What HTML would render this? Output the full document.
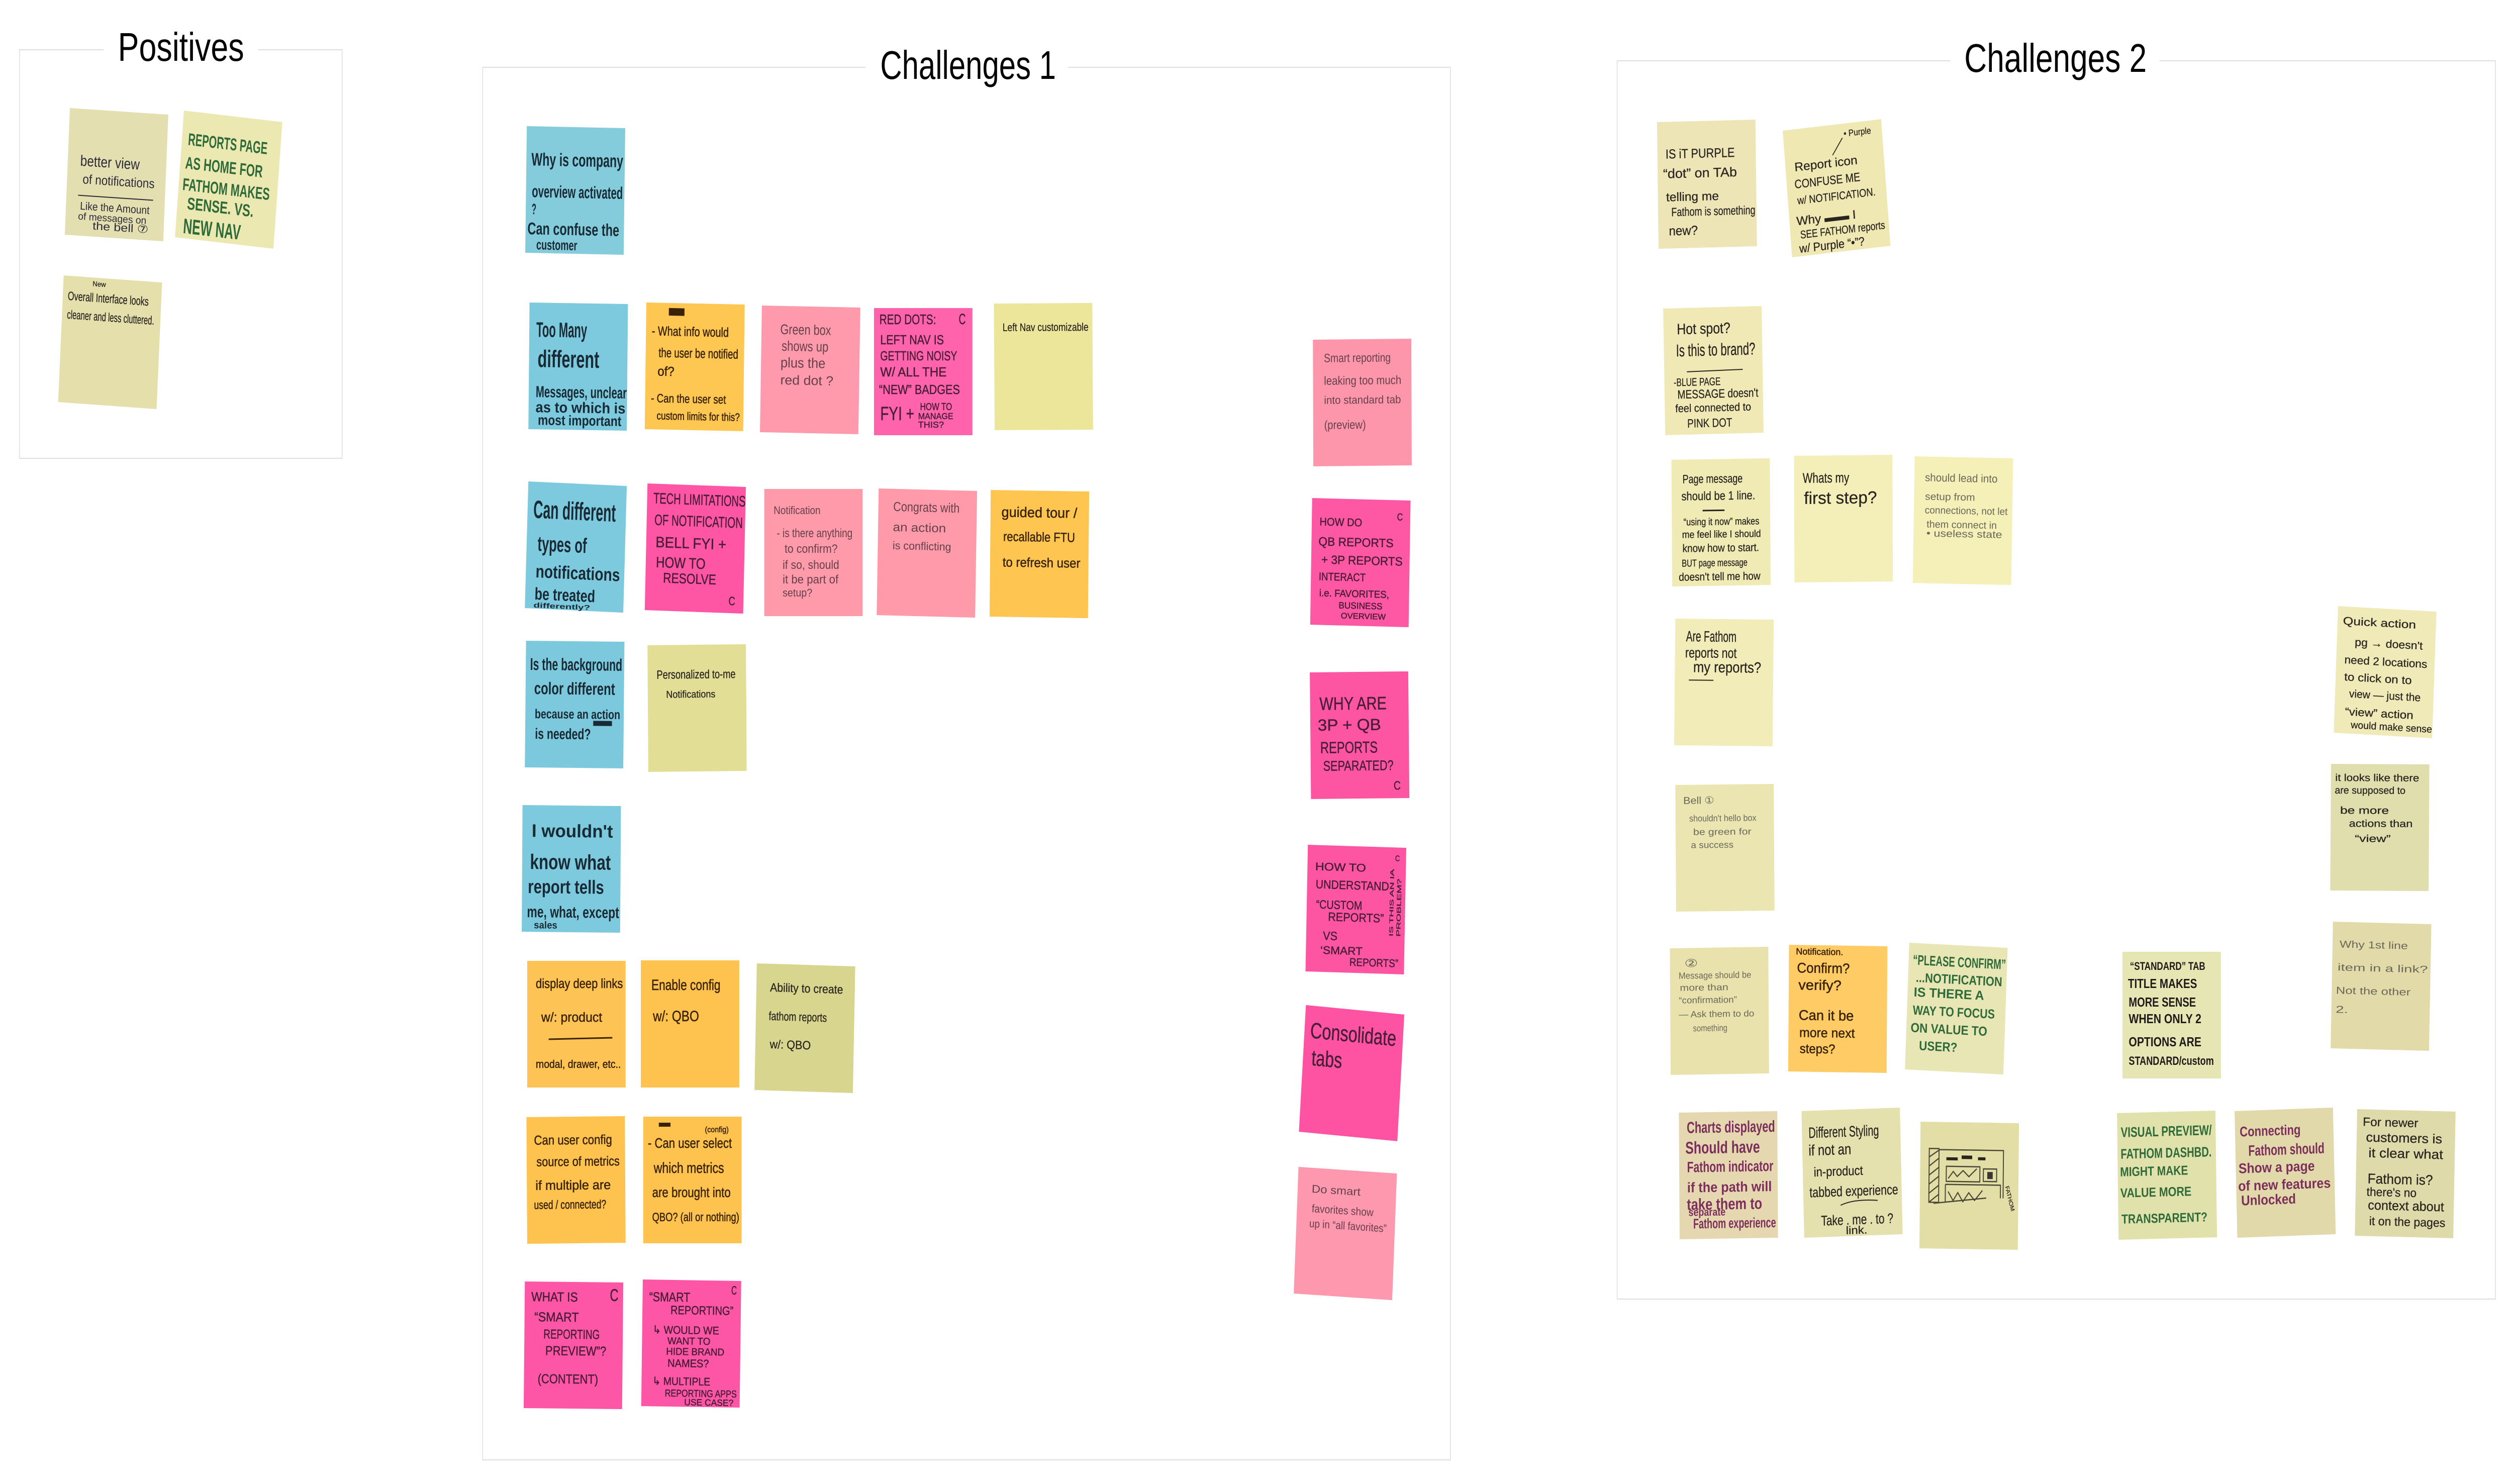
<!DOCTYPE html>
<html lang="en">
<head>
<meta charset="utf-8">
<title>Positives and Challenges</title>
<style>
html,body{margin:0;padding:0;background:#fff;width:100%;height:100%;overflow:hidden}
svg{display:block;position:fixed;left:0;top:0;width:100vw;height:100vh}
text{font-family:"Liberation Sans",sans-serif}
.k text{fill:#2a2420;stroke:#2a2420;stroke-width:.3}
.kb text{fill:#1d1a18;font-weight:700}
.n text{fill:#2b2b3a}
.g text{fill:#2f6b3a;font-weight:700}
.p text{fill:#7d2f5c;font-weight:700}
.m text{fill:#4a1d38;stroke:#4a1d38;stroke-width:.5}
.c text{fill:#182a34;font-weight:700}
.o text{fill:#3a2208;stroke:#3a2208;stroke-width:.5}
.r text{fill:#66404c}
.y text{fill:#6b685a}
.t{fill:#000;font-size:80px}
.f{fill:none;stroke:#dedede;stroke-width:2}
.w{fill:#fff}
</style>
</head>
<body>
<svg xmlns="http://www.w3.org/2000/svg" viewBox="0 0 6435 2953" preserveAspectRatio="none">
<rect width="6435" height="2953" fill="#fff"/>

<!-- frames -->
<rect class="f" x="50" y="99" width="826" height="813"/>
<rect class="w" x="265" y="90" width="396" height="20"/>
<text class="t" x="302" y="121" textLength="323" lengthAdjust="spacingAndGlyphs">Positives</text>

<rect class="f" x="1236" y="134" width="2478" height="2771"/>
<rect class="w" x="2216" y="125" width="519" height="20"/>
<text class="t" x="2254" y="157" textLength="450" lengthAdjust="spacingAndGlyphs">Challenges 1</text>

<rect class="f" x="4141" y="121" width="2249" height="2464"/>
<rect class="w" x="4994" y="112" width="536" height="20"/>
<text class="t" x="5030" y="143" textLength="467" lengthAdjust="spacingAndGlyphs">Challenges 2</text>

<!-- Positives -->
<g class="n" transform="matrix(1 .052 -.052 1 179 215)"><rect width="252" height="252" fill="#e4dfb0"/>
<text x="32" y="113" font-size="30" textLength="152" lengthAdjust="spacingAndGlyphs">better view</text>
<text x="40" y="148" font-size="26" textLength="184" lengthAdjust="spacingAndGlyphs">of notifications</text>
<path d="M30 172L222 172" stroke="#2b2b3a" stroke-width="2"/>
<text x="36" y="200" font-size="22" textLength="178" lengthAdjust="spacingAndGlyphs">Like the Amount</text>
<text x="32" y="220" font-size="20" textLength="175" lengthAdjust="spacingAndGlyphs">of messages on</text>
<text x="70" y="238" font-size="22" textLength="143" lengthAdjust="spacingAndGlyphs">the bell ⑦</text></g>

<g class="g" transform="matrix(1 .091 -.091 1 471 220)"><rect width="252" height="252" fill="#ece8b2"/>
<text x="16" y="67" font-size="34" textLength="203" lengthAdjust="spacingAndGlyphs">REPORTS PAGE</text>
<text x="13" y="114" font-size="34" textLength="198" lengthAdjust="spacingAndGlyphs">AS HOME FOR</text>
<text x="10" y="157" font-size="34" textLength="223" lengthAdjust="spacingAndGlyphs">FATHOM MAKES</text>
<text x="25" y="194" font-size="34" textLength="170" lengthAdjust="spacingAndGlyphs">SENSE. VS.</text>
<text x="19" y="242" font-size="42" textLength="147" lengthAdjust="spacingAndGlyphs">NEW NAV</text></g>

<g class="k" transform="matrix(1 .056 -.056 1 163 548)"><rect width="252" height="252" fill="#e5e0ab"/>
<text x="75" y="17" font-size="14" textLength="34" lengthAdjust="spacingAndGlyphs">New</text>
<text x="13" y="48" font-size="24" textLength="207" lengthAdjust="spacingAndGlyphs">Overall Interface looks</text>
<text x="13" y="85" font-size="24" textLength="223" lengthAdjust="spacingAndGlyphs">cleaner and less cluttered.</text></g>

<!-- Challenges 1 -->
<g class="c" transform="matrix(1 .016 -.016 1 1349 251)"><rect width="252" height="252" fill="#84cbdc"/>
<text x="13" y="78" font-size="36" textLength="235" lengthAdjust="spacingAndGlyphs">Why is company</text>
<text x="15" y="141" font-size="34" textLength="233" lengthAdjust="spacingAndGlyphs">overview activated</text>
<text x="15" y="175" font-size="30" textLength="12" lengthAdjust="spacingAndGlyphs">?</text>
<text x="5" y="215" font-size="34" textLength="235" lengthAdjust="spacingAndGlyphs">Can confuse the</text>
<text x="28" y="245" font-size="28" textLength="105" lengthAdjust="spacingAndGlyphs">customer</text></g>

<g class="c" transform="matrix(1 .012 -.012 1 1356 602)"><rect width="252" height="252" fill="#7dc9dd"/>
<text x="18" y="68" font-size="42" textLength="130" lengthAdjust="spacingAndGlyphs">Too Many</text>
<text x="22" y="128" font-size="48" textLength="158" lengthAdjust="spacingAndGlyphs">different</text>
<text x="18" y="188" font-size="32" textLength="233" lengthAdjust="spacingAndGlyphs">Messages, unclear</text>
<text x="18" y="218" font-size="30" textLength="230" lengthAdjust="spacingAndGlyphs">as to which is</text>
<text x="24" y="243" font-size="28" textLength="214" lengthAdjust="spacingAndGlyphs">most important</text></g>

<g class="o" transform="matrix(1 .016 -.016 1 1655 602)"><rect width="252" height="252" fill="#fec752"/>
<rect x="58" y="10" width="40" height="15" fill="#3a2208"/>
<text x="15" y="65" font-size="26" textLength="197" lengthAdjust="spacingAndGlyphs">- What info would</text>
<text x="33" y="108" font-size="26" textLength="204" lengthAdjust="spacingAndGlyphs">the user be notified</text>
<text x="31" y="145" font-size="26" textLength="43" lengthAdjust="spacingAndGlyphs">of?</text>
<text x="15" y="198" font-size="24" textLength="192" lengthAdjust="spacingAndGlyphs">- Can the user set</text>
<text x="30" y="232" font-size="22" textLength="213" lengthAdjust="spacingAndGlyphs">custom limits for this?</text></g>

<g class="r" transform="matrix(1 .016 -.02 1 1951 608)"><rect width="252" height="252" fill="#fe9aab"/>
<text x="48" y="56" font-size="28" textLength="130" lengthAdjust="spacingAndGlyphs">Green box</text>
<text x="52" y="89" font-size="28" textLength="120" lengthAdjust="spacingAndGlyphs">shows up</text>
<text x="50" y="122" font-size="28" textLength="115" lengthAdjust="spacingAndGlyphs">plus the</text>
<text x="50" y="156" font-size="26" textLength="136" lengthAdjust="spacingAndGlyphs">red dot ?</text></g>

<g class="m" transform="matrix(1 0 0 1 2238 613)"><rect width="252" height="253" fill="#fe63ab"/>
<text x="14" y="32" font-size="28" textLength="145" lengthAdjust="spacingAndGlyphs">RED DOTS:</text>
<text x="217" y="32" font-size="30" textLength="18" lengthAdjust="spacingAndGlyphs">C</text>
<text x="16" y="72" font-size="26" textLength="163" lengthAdjust="spacingAndGlyphs">LEFT NAV IS</text>
<text x="16" y="104" font-size="26" textLength="197" lengthAdjust="spacingAndGlyphs">GETTING NOISY</text>
<text x="16" y="136" font-size="26" textLength="170" lengthAdjust="spacingAndGlyphs">W/ ALL THE</text>
<text x="13" y="171" font-size="26" textLength="207" lengthAdjust="spacingAndGlyphs">“NEW” BADGES</text>
<text x="16" y="223" font-size="38" textLength="87" lengthAdjust="spacingAndGlyphs">FYI +</text>
<text x="118" y="203" font-size="20" textLength="82" lengthAdjust="spacingAndGlyphs">HOW TO</text>
<text x="113" y="221" font-size="18" textLength="90" lengthAdjust="spacingAndGlyphs">MANAGE</text>
<text x="113" y="238" font-size="18" textLength="66" lengthAdjust="spacingAndGlyphs">THIS?</text></g>

<g class="k" transform="matrix(1 -.004 .008 1 2545 604)"><rect width="252" height="252" fill="#ebe69a"/>
<text x="22" y="55" font-size="22" textLength="220" lengthAdjust="spacingAndGlyphs">Left Nav customizable</text></g>

<g class="c" transform="matrix(1 .036 -.036 1 1353 958)"><rect width="252" height="252" fill="#7dc9de"/>
<text x="15" y="72" font-size="50" textLength="211" lengthAdjust="spacingAndGlyphs">Can different</text>
<text x="28" y="137" font-size="42" textLength="126" lengthAdjust="spacingAndGlyphs">types of</text>
<text x="25" y="190" font-size="36" textLength="216" lengthAdjust="spacingAndGlyphs">notifications</text>
<text x="24" y="234" font-size="34" textLength="155" lengthAdjust="spacingAndGlyphs">be treated</text>
<text x="22" y="250" font-size="14" textLength="145" lengthAdjust="spacingAndGlyphs">differently?</text></g>

<g class="m" transform="matrix(1 .028 -.028 1 1658 962)"><rect width="252" height="252" fill="#fe56a4"/>
<text x="16" y="39" font-size="30" textLength="236" lengthAdjust="spacingAndGlyphs">TECH LIMITATIONS</text>
<text x="20" y="82" font-size="30" textLength="226" lengthAdjust="spacingAndGlyphs">OF NOTIFICATION</text>
<text x="24" y="126" font-size="30" textLength="181" lengthAdjust="spacingAndGlyphs">BELL FYI +</text>
<text x="26" y="166" font-size="30" textLength="127" lengthAdjust="spacingAndGlyphs">HOW TO</text>
<text x="45" y="196" font-size="28" textLength="136" lengthAdjust="spacingAndGlyphs">RESOLVE</text>
<text x="214" y="236" font-size="24" textLength="17" lengthAdjust="spacingAndGlyphs">C</text></g>

<g class="r" transform="matrix(1 0 0 1 1957 973)"><rect width="252" height="253" fill="#fe9aa9"/>
<text x="24" y="50" font-size="22" textLength="120" lengthAdjust="spacingAndGlyphs">Notification</text>
<text x="32" y="96" font-size="24" textLength="194" lengthAdjust="spacingAndGlyphs">- is there anything</text>
<text x="52" y="127" font-size="24" textLength="136" lengthAdjust="spacingAndGlyphs">to confirm?</text>
<text x="47" y="159" font-size="24" textLength="145" lengthAdjust="spacingAndGlyphs">if so, should</text>
<text x="47" y="188" font-size="24" textLength="143" lengthAdjust="spacingAndGlyphs">it be part of</text>
<text x="47" y="214" font-size="22" textLength="76" lengthAdjust="spacingAndGlyphs">setup?</text></g>

<g class="r" transform="matrix(1 .02 -.02 1 2250 972)"><rect width="252" height="252" fill="#fe9aa9"/>
<text x="38" y="44" font-size="26" textLength="170" lengthAdjust="spacingAndGlyphs">Congrats with</text>
<text x="38" y="84" font-size="24" textLength="136" lengthAdjust="spacingAndGlyphs">an action</text>
<text x="38" y="120" font-size="22" textLength="150" lengthAdjust="spacingAndGlyphs">is conflicting</text></g>

<g class="o" transform="matrix(1 .012 -.012 1 2537 975)"><rect width="252" height="252" fill="#fec651"/>
<text x="28" y="53" font-size="28" textLength="194" lengthAdjust="spacingAndGlyphs">guided tour /</text>
<text x="33" y="101" font-size="26" textLength="184" lengthAdjust="spacingAndGlyphs">recallable FTU</text>
<text x="32" y="152" font-size="26" textLength="199" lengthAdjust="spacingAndGlyphs">to refresh user</text></g>

<g class="c" transform="matrix(1 .008 -.012 1 1347 1275)"><rect width="252" height="252" fill="#7cc9de"/>
<rect x="174" y="158" width="48" height="10" fill="#182a34"/>
<text x="11" y="58" font-size="34" textLength="236" lengthAdjust="spacingAndGlyphs">Is the background</text>
<text x="22" y="106" font-size="34" textLength="207" lengthAdjust="spacingAndGlyphs">color different</text>
<text x="24" y="154" font-size="26" textLength="219" lengthAdjust="spacingAndGlyphs">because an action</text>
<text x="25" y="195" font-size="30" textLength="143" lengthAdjust="spacingAndGlyphs">is needed?</text></g>

<g class="k" transform="matrix(1 -.008 .008 1 1658 1284)"><rect width="252" height="252" fill="#e2de95"/>
<text x="23" y="67" font-size="24" textLength="202" lengthAdjust="spacingAndGlyphs">Personalized to-me</text>
<text x="47" y="105" font-size="20" textLength="126" lengthAdjust="spacingAndGlyphs">Notifications</text></g>

<g class="c" transform="matrix(1 .008 -.008 1 1338 1602)"><rect width="252" height="252" fill="#7dc9dd"/>
<text x="24" y="63" font-size="36" textLength="208" lengthAdjust="spacingAndGlyphs">I wouldn't</text>
<text x="20" y="127" font-size="42" textLength="207" lengthAdjust="spacingAndGlyphs">know what</text>
<text x="15" y="175" font-size="38" textLength="195" lengthAdjust="spacingAndGlyphs">report tells</text>
<text x="13" y="223" font-size="32" textLength="236" lengthAdjust="spacingAndGlyphs">me, what, except</text>
<text x="31" y="245" font-size="20" textLength="60" lengthAdjust="spacingAndGlyphs">sales</text></g>

<g class="o" transform="matrix(1 0 0 1 1350 1912)"><rect width="252" height="252" fill="#fec355"/>
<text x="22" y="54" font-size="26" textLength="223" lengthAdjust="spacingAndGlyphs">display deep links</text>
<text x="36" y="121" font-size="26" textLength="156" lengthAdjust="spacingAndGlyphs">w/: product</text>
<path d="M55 156L218 153" stroke="#3a2208" stroke-width="3"/>
<text x="22" y="213" font-size="22" textLength="218" lengthAdjust="spacingAndGlyphs">modal, drawer, etc..</text></g>

<g class="o" transform="matrix(1 0 0 1 1641 1911)"><rect width="252" height="253" fill="#fec24f"/>
<text x="27" y="59" font-size="30" textLength="177" lengthAdjust="spacingAndGlyphs">Enable config</text>
<text x="31" y="121" font-size="30" textLength="118" lengthAdjust="spacingAndGlyphs">w/: QBO</text></g>

<g class="k" transform="matrix(1 .024 -.024 1 1938 1917)"><rect width="252" height="252" fill="#d8d58e"/>
<text x="35" y="55" font-size="24" textLength="187" lengthAdjust="spacingAndGlyphs">Ability to create</text>
<text x="33" y="112" font-size="24" textLength="149" lengthAdjust="spacingAndGlyphs">fathom reports</text>
<text x="37" y="168" font-size="24" textLength="105" lengthAdjust="spacingAndGlyphs">w/: QBO</text></g>

<g class="o" transform="matrix(1 -.008 .008 1 1348 2223)"><rect width="252" height="252" fill="#fec24f"/>
<text x="19" y="55" font-size="26" textLength="200" lengthAdjust="spacingAndGlyphs">Can user config</text>
<text x="25" y="98" font-size="26" textLength="213" lengthAdjust="spacingAndGlyphs">source of metrics</text>
<text x="22" y="145" font-size="26" textLength="193" lengthAdjust="spacingAndGlyphs">if multiple are</text>
<text x="18" y="183" font-size="24" textLength="185" lengthAdjust="spacingAndGlyphs">used / connected?</text></g>

<g class="o" transform="matrix(1 0 0 1 1647 2222)"><rect width="252" height="252" fill="#fec24f"/>
<rect x="40" y="12" width="30" height="8" fill="#3a2208"/>
<text x="158" y="31" font-size="16" textLength="61" lengthAdjust="spacingAndGlyphs">(config)</text>
<text x="12" y="62" font-size="28" textLength="215" lengthAdjust="spacingAndGlyphs">- Can user select</text>
<text x="27" y="112" font-size="30" textLength="180" lengthAdjust="spacingAndGlyphs">which metrics</text>
<text x="23" y="160" font-size="28" textLength="201" lengthAdjust="spacingAndGlyphs">are brought into</text>
<text x="23" y="208" font-size="24" textLength="223" lengthAdjust="spacingAndGlyphs">QBO? (all or nothing)</text></g>

<g class="m" transform="matrix(1 .008 -.012 1 1344 2550)"><rect width="252" height="252" fill="#fe56a6"/>
<text x="17" y="39" font-size="26" textLength="119" lengthAdjust="spacingAndGlyphs">WHAT IS</text>
<text x="218" y="37" font-size="34" textLength="22" lengthAdjust="spacingAndGlyphs">C</text>
<text x="25" y="79" font-size="26" textLength="114" lengthAdjust="spacingAndGlyphs">“SMART</text>
<text x="49" y="113" font-size="26" textLength="144" lengthAdjust="spacingAndGlyphs">REPORTING</text>
<text x="54" y="146" font-size="26" textLength="156" lengthAdjust="spacingAndGlyphs">PREVIEW”?</text>
<text x="35" y="202" font-size="26" textLength="155" lengthAdjust="spacingAndGlyphs">(CONTENT)</text></g>

<g class="m" transform="matrix(1 .012 -.016 1 1646 2546)"><rect width="252" height="252" fill="#fe56a6"/>
<text x="227" y="27" font-size="24" textLength="14" lengthAdjust="spacingAndGlyphs">C</text>
<text x="17" y="43" font-size="26" textLength="105" lengthAdjust="spacingAndGlyphs">“SMART</text>
<text x="72" y="68" font-size="24" textLength="161" lengthAdjust="spacingAndGlyphs">REPORTING”</text>
<text x="27" y="107" font-size="22" textLength="170" lengthAdjust="spacingAndGlyphs">↳ WOULD WE</text>
<text x="65" y="128" font-size="20" textLength="110" lengthAdjust="spacingAndGlyphs">WANT TO</text>
<text x="62" y="149" font-size="20" textLength="149" lengthAdjust="spacingAndGlyphs">HIDE BRAND</text>
<text x="66" y="173" font-size="22" textLength="106" lengthAdjust="spacingAndGlyphs">NAMES?</text>
<text x="28" y="209" font-size="22" textLength="148" lengthAdjust="spacingAndGlyphs">↳ MULTIPLE</text>
<text x="60" y="232" font-size="20" textLength="184" lengthAdjust="spacingAndGlyphs">REPORTING APPS</text>
<text x="110" y="249" font-size="18" textLength="126" lengthAdjust="spacingAndGlyphs">USE CASE?</text></g>

<g class="r" transform="matrix(1 -.008 .004 1 3362 676)"><rect width="252" height="252" fill="#fe96ab"/>
<text x="28" y="45" font-size="24" textLength="171" lengthAdjust="spacingAndGlyphs">Smart reporting</text>
<text x="28" y="90" font-size="24" textLength="198" lengthAdjust="spacingAndGlyphs">leaking too much</text>
<text x="28" y="128" font-size="22" textLength="197" lengthAdjust="spacingAndGlyphs">into standard tab</text>
<text x="28" y="178" font-size="24" textLength="107" lengthAdjust="spacingAndGlyphs">(preview)</text></g>

<g class="m" transform="matrix(1 .02 -.02 1 3360 991)"><rect width="252" height="252" fill="#fe57a3"/>
<text x="218" y="40" font-size="20" textLength="15" lengthAdjust="spacingAndGlyphs">C</text>
<text x="20" y="54" font-size="22" textLength="109" lengthAdjust="spacingAndGlyphs">HOW DO</text>
<text x="18" y="94" font-size="24" textLength="192" lengthAdjust="spacingAndGlyphs">QB REPORTS</text>
<text x="26" y="130" font-size="24" textLength="208" lengthAdjust="spacingAndGlyphs">+ 3P REPORTS</text>
<text x="20" y="163" font-size="22" textLength="120" lengthAdjust="spacingAndGlyphs">INTERACT</text>
<text x="22" y="195" font-size="20" textLength="179" lengthAdjust="spacingAndGlyphs">i.e. FAVORITES,</text>
<text x="72" y="218" font-size="18" textLength="112" lengthAdjust="spacingAndGlyphs">BUSINESS</text>
<text x="78" y="238" font-size="16" textLength="115" lengthAdjust="spacingAndGlyphs">OVERVIEW</text></g>

<g class="m" transform="matrix(1 -.008 .012 1 3354 1338)"><rect width="252" height="252" fill="#fe55a3"/>
<text x="24" y="75" font-size="36" textLength="172" lengthAdjust="spacingAndGlyphs">WHY ARE</text>
<text x="19" y="116" font-size="32" textLength="162" lengthAdjust="spacingAndGlyphs">3P + QB</text>
<text x="25" y="161" font-size="32" textLength="147" lengthAdjust="spacingAndGlyphs">REPORTS</text>
<text x="32" y="196" font-size="28" textLength="180" lengthAdjust="spacingAndGlyphs">SEPARATED?</text>
<text x="212" y="235" font-size="24" textLength="18" lengthAdjust="spacingAndGlyphs">C</text></g>

<g class="m" transform="matrix(1 .024 -.024 1 3349 1681)"><rect width="252" height="252" fill="#fe55a3"/>
<text x="224" y="27" font-size="16" textLength="12" lengthAdjust="spacingAndGlyphs">C</text>
<text x="20" y="50" font-size="22" textLength="130" lengthAdjust="spacingAndGlyphs">HOW TO</text>
<text x="22" y="86" font-size="24" textLength="188" lengthAdjust="spacingAndGlyphs">UNDERSTAND</text>
<text x="24" y="126" font-size="24" textLength="118" lengthAdjust="spacingAndGlyphs">“CUSTOM</text>
<text x="55" y="150" font-size="24" textLength="143" lengthAdjust="spacingAndGlyphs">REPORTS”</text>
<text x="43" y="188" font-size="24" textLength="37" lengthAdjust="spacingAndGlyphs">VS</text>
<text x="37" y="216" font-size="22" textLength="108" lengthAdjust="spacingAndGlyphs">‘SMART</text>
<text x="112" y="238" font-size="22" textLength="125" lengthAdjust="spacingAndGlyphs">REPORTS”</text>
<text transform="translate(222 177) rotate(-90)" font-size="14" textLength="134" lengthAdjust="spacingAndGlyphs">IS THIS AN IA</text>
<text transform="translate(241 177) rotate(-90)" font-size="15" textLength="115" lengthAdjust="spacingAndGlyphs">PROBLEM?</text></g>

<g class="m" transform="matrix(1 .075 -.071 1 3344 2000)"><rect width="252" height="252" fill="#fe52a2"/>
<text x="15" y="64" font-size="44" textLength="220" lengthAdjust="spacingAndGlyphs">Consolidate</text>
<text x="22" y="118" font-size="44" textLength="78" lengthAdjust="spacingAndGlyphs">tabs</text></g>

<g class="r" transform="matrix(1 .052 -.048 1 3325 2322)"><rect width="252" height="252" fill="#fe98ae"/>
<text x="36" y="49" font-size="22" textLength="125" lengthAdjust="spacingAndGlyphs">Do smart</text>
<text x="38" y="88" font-size="22" textLength="158" lengthAdjust="spacingAndGlyphs">favorites show</text>
<text x="33" y="118" font-size="22" textLength="198" lengthAdjust="spacingAndGlyphs">up in “all favorites”</text></g>

<!-- Challenges 2 -->
<g class="k" transform="matrix(1 -.02 .016 1 4243 243)"><rect width="252" height="252" fill="#ede5b6"/>
<text x="21" y="73" font-size="26" textLength="177" lengthAdjust="spacingAndGlyphs">IS iT PURPLE</text>
<text x="14" y="112" font-size="26" textLength="189" lengthAdjust="spacingAndGlyphs">“dot” on TAb</text>
<text x="21" y="158" font-size="24" textLength="135" lengthAdjust="spacingAndGlyphs">telling me</text>
<text x="34" y="188" font-size="24" textLength="215" lengthAdjust="spacingAndGlyphs">Fathom is something</text>
<text x="27" y="226" font-size="26" textLength="74" lengthAdjust="spacingAndGlyphs">new?</text></g>

<g class="k" transform="matrix(1 -.091 .095 1 4565 260)"><rect width="252" height="252" fill="#efe8b2"/>
<text x="154" y="26" font-size="18" textLength="70" lengthAdjust="spacingAndGlyphs">• Purple</text>
<path d="M150 28L122 60" stroke="#2a2420" stroke-width="2" fill="none"/>
<text x="23" y="83" font-size="24" textLength="161" lengthAdjust="spacingAndGlyphs">Report icon</text>
<text x="20" y="117" font-size="24" textLength="168" lengthAdjust="spacingAndGlyphs">CONFUSE ME</text>
<text x="24" y="149" font-size="22" textLength="200" lengthAdjust="spacingAndGlyphs">w/ NOTIFICATION.</text>
<text x="18" y="190" font-size="24" textLength="152" lengthAdjust="spacingAndGlyphs">Why ▬▬ I</text>
<text x="25" y="217" font-size="22" textLength="217" lengthAdjust="spacingAndGlyphs">SEE FATHOM reports</text>
<text x="20" y="245" font-size="24" textLength="167" lengthAdjust="spacingAndGlyphs">w/ Purple “•”?</text></g>

<g class="k" transform="matrix(1 -.02 .02 1 4259 614)"><rect width="252" height="252" fill="#f0e9b5"/>
<text x="34" y="52" font-size="30" textLength="137" lengthAdjust="spacingAndGlyphs">Hot spot?</text>
<text x="31" y="96" font-size="34" textLength="203" lengthAdjust="spacingAndGlyphs">Is this to brand?</text>
<path d="M58 127L201 125" stroke="#2a2420" stroke-width="2"/>
<text x="24" y="155" font-size="22" textLength="120" lengthAdjust="spacingAndGlyphs">-BLUE PAGE</text>
<text x="33" y="180" font-size="24" textLength="207" lengthAdjust="spacingAndGlyphs">MESSAGE doesn't</text>
<text x="27" y="207" font-size="22" textLength="194" lengthAdjust="spacingAndGlyphs">feel connected to</text>
<text x="57" y="238" font-size="24" textLength="115" lengthAdjust="spacingAndGlyphs">PINK DOT</text></g>

<g class="k" transform="matrix(1 -.012 .008 1 4280 915)"><rect width="252" height="252" fill="#f0ebb4"/>
<text x="28" y="47" font-size="24" textLength="154" lengthAdjust="spacingAndGlyphs">Page message</text>
<text x="25" y="81" font-size="24" textLength="189" lengthAdjust="spacingAndGlyphs">should be 1 line.</text>
<path d="M79 102L135 102" stroke="#2a2420" stroke-width="3"/>
<text x="30" y="131" font-size="20" textLength="194" lengthAdjust="spacingAndGlyphs">“using it now” makes</text>
<text x="26" y="156" font-size="20" textLength="202" lengthAdjust="spacingAndGlyphs">me feel like I should</text>
<text x="27" y="184" font-size="22" textLength="196" lengthAdjust="spacingAndGlyphs">know how to start.</text>
<text x="25" y="213" font-size="20" textLength="168" lengthAdjust="spacingAndGlyphs">BUT page message</text>
<text x="17" y="241" font-size="22" textLength="209" lengthAdjust="spacingAndGlyphs">doesn't tell me how</text></g>

<g class="k" transform="matrix(1 -.008 .004 1 4594 907)"><rect width="252" height="252" fill="#f4efb8"/>
<text x="22" y="54" font-size="28" textLength="119" lengthAdjust="spacingAndGlyphs">Whats my</text>
<text x="25" y="96" font-size="34" textLength="187" lengthAdjust="spacingAndGlyphs">first step?</text></g>

<g class="y" transform="matrix(1 .016 -.02 1 4903 908)"><rect width="252" height="252" fill="#f5efb8"/>
<text x="27" y="49" font-size="22" textLength="186" lengthAdjust="spacingAndGlyphs">should lead into</text>
<text x="28" y="86" font-size="20" textLength="128" lengthAdjust="spacingAndGlyphs">setup from</text>
<text x="28" y="113" font-size="20" textLength="212" lengthAdjust="spacingAndGlyphs">connections, not let</text>
<text x="33" y="141" font-size="20" textLength="180" lengthAdjust="spacingAndGlyphs">them connect in</text>
<text x="33" y="159" font-size="20" textLength="194" lengthAdjust="spacingAndGlyphs">• useless state</text></g>

<g class="k" transform="matrix(1 .008 -.012 1 4290 1231)"><rect width="252" height="252" fill="#f1ecb8"/>
<text x="28" y="45" font-size="30" textLength="129" lengthAdjust="spacingAndGlyphs">Are Fathom</text>
<text x="26" y="77" font-size="28" textLength="132" lengthAdjust="spacingAndGlyphs">reports not</text>
<text x="47" y="106" font-size="30" textLength="174" lengthAdjust="spacingAndGlyphs">my reports?</text>
<path d="M36 122L99 122" stroke="#2a2420" stroke-width="2"/></g>

<g class="y" transform="matrix(1 -.008 .008 1 4290 1562)"><rect width="252" height="252" fill="#ebe5b2"/>
<text x="20" y="38" font-size="20" textLength="79" lengthAdjust="spacingAndGlyphs">Bell ①</text>
<text x="35" y="73" font-size="18" textLength="172" lengthAdjust="spacingAndGlyphs">shouldn't hello box</text>
<text x="45" y="100" font-size="18" textLength="149" lengthAdjust="spacingAndGlyphs">be green for</text>
<text x="39" y="126" font-size="18" textLength="109" lengthAdjust="spacingAndGlyphs">a success</text></g>

<g class="y" transform="matrix(1 -.012 .008 1 4276 1887)"><rect width="252" height="252" fill="#e9e2ad"/>
<text x="37" y="38" font-size="22" textLength="35" lengthAdjust="spacingAndGlyphs">②</text>
<text x="22" y="61" font-size="18" textLength="186" lengthAdjust="spacingAndGlyphs">Message should be</text>
<text x="25" y="85" font-size="18" textLength="124" lengthAdjust="spacingAndGlyphs">more than</text>
<text x="22" y="110" font-size="18" textLength="149" lengthAdjust="spacingAndGlyphs">“confirmation”</text>
<text x="22" y="138" font-size="18" textLength="193" lengthAdjust="spacingAndGlyphs">— Ask them to do</text>
<text x="58" y="166" font-size="18" textLength="88" lengthAdjust="spacingAndGlyphs">something</text></g>

<g class="o" transform="matrix(1 .012 -.008 1 4581 1880)"><rect width="252" height="252" fill="#fecb64"/>
<text x="18" y="19" font-size="18" textLength="121" lengthAdjust="spacingAndGlyphs">Notification.</text>
<text x="21" y="55" font-size="28" textLength="135" lengthAdjust="spacingAndGlyphs">Confirm?</text>
<text x="25" y="89" font-size="28" textLength="110" lengthAdjust="spacingAndGlyphs">verify?</text>
<text x="26" y="149" font-size="28" textLength="141" lengthAdjust="spacingAndGlyphs">Can it be</text>
<text x="28" y="183" font-size="26" textLength="142" lengthAdjust="spacingAndGlyphs">more next</text>
<text x="29" y="215" font-size="26" textLength="91" lengthAdjust="spacingAndGlyphs">steps?</text></g>

<g class="g" transform="matrix(1 .04 -.044 1 4889 1876)"><rect width="252" height="252" fill="#e8e6b4"/>
<text x="11" y="43" font-size="28" textLength="238" lengthAdjust="spacingAndGlyphs">“PLEASE CONFIRM”</text>
<text x="20" y="77" font-size="26" textLength="221" lengthAdjust="spacingAndGlyphs">...NOTIFICATION</text>
<text x="16" y="106" font-size="26" textLength="180" lengthAdjust="spacingAndGlyphs">IS THERE A</text>
<text x="15" y="142" font-size="26" textLength="210" lengthAdjust="spacingAndGlyphs">WAY TO FOCUS</text>
<text x="11" y="177" font-size="26" textLength="196" lengthAdjust="spacingAndGlyphs">ON VALUE TO</text>
<text x="34" y="212" font-size="26" textLength="98" lengthAdjust="spacingAndGlyphs">USER?</text></g>

<g class="p" transform="matrix(1 -.012 .008 1 4299 2214)"><rect width="252" height="252" fill="#e5d8b0"/>
<text x="20" y="41" font-size="32" textLength="226" lengthAdjust="spacingAndGlyphs">Charts displayed</text>
<text x="16" y="82" font-size="34" textLength="191" lengthAdjust="spacingAndGlyphs">Should have</text>
<text x="20" y="119" font-size="30" textLength="221" lengthAdjust="spacingAndGlyphs">Fathom indicator</text>
<text x="20" y="159" font-size="28" textLength="217" lengthAdjust="spacingAndGlyphs">if the path will</text>
<text x="19" y="194" font-size="32" textLength="193" lengthAdjust="spacingAndGlyphs">take them to</text>
<text x="23" y="206" font-size="22" textLength="95" lengthAdjust="spacingAndGlyphs">separate</text>
<text x="35" y="231" font-size="28" textLength="212" lengthAdjust="spacingAndGlyphs">Fathom experience</text></g>

<g class="k" transform="matrix(1 -.028 .028 1 4613 2211)"><rect width="252" height="252" fill="#e5e1ae"/>
<text x="17" y="54" font-size="30" textLength="180" lengthAdjust="spacingAndGlyphs">Different Styling</text>
<text x="16" y="89" font-size="30" textLength="109" lengthAdjust="spacingAndGlyphs">if not an</text>
<text x="28" y="131" font-size="26" textLength="126" lengthAdjust="spacingAndGlyphs">in-product</text>
<text x="16" y="172" font-size="28" textLength="227" lengthAdjust="spacingAndGlyphs">tabbed experience</text>
<path d="M95 190Q130 178 190 183" stroke="#2a2420" stroke-width="2" fill="none"/>
<text x="44" y="229" font-size="28" textLength="185" lengthAdjust="spacingAndGlyphs">Take . me . to ?</text>
<text x="107" y="248" font-size="22" textLength="55" lengthAdjust="spacingAndGlyphs">link.</text></g>

<g class="k" transform="matrix(1 .012 -.012 1 4918 2232)"><rect width="252" height="252" fill="#e2dea5"/>
<path d="M23 53L48 53L48 160L23 160ZM48 55L213 55L213 150M23 70L48 56M23 88L48 72M23 106L48 90M23 124L48 108M23 142L48 126M23 160L48 144M67 88L153 88L153 118L67 118ZM72 112L85 98L95 108L110 96L125 108L145 92M162 92L196 92L196 117L162 117ZM65 124L206 124L206 150M65 124L65 160M35 162L170 150M72 138L85 156L97 140L110 158L125 140L140 155L160 135" fill="none" stroke="#4a4638" stroke-width="2.5"/>
<rect x="67" y="70" width="29" height="6" fill="#2a2420"/><rect x="106" y="66" width="27" height="7" fill="#2a2420"/><rect x="148" y="69" width="19" height="6" fill="#2a2420"/><rect x="172" y="98" width="14" height="14" fill="#3a3630"/>
<text transform="translate(218 127) rotate(72)" font-size="14" textLength="52" lengthAdjust="spacingAndGlyphs">FATHOM</text></g>

<g class="kb" transform="matrix(1 0 0 1 5435 1894)"><rect width="252" height="252" fill="#e6e5b4"/>
<text x="19" y="36" font-size="22" textLength="193" lengthAdjust="spacingAndGlyphs">“STANDARD” TAB</text>
<text x="14" y="72" font-size="26" textLength="177" lengthAdjust="spacingAndGlyphs">TITLE MAKES</text>
<text x="16" y="109" font-size="26" textLength="172" lengthAdjust="spacingAndGlyphs">MORE SENSE</text>
<text x="16" y="142" font-size="26" textLength="186" lengthAdjust="spacingAndGlyphs">WHEN ONLY 2</text>
<text x="16" y="188" font-size="26" textLength="186" lengthAdjust="spacingAndGlyphs">OPTIONS ARE</text>
<text x="16" y="225" font-size="24" textLength="218" lengthAdjust="spacingAndGlyphs">STANDARD/custom</text></g>

<g class="g" transform="matrix(1 -.02 .016 1 5421 2215)"><rect width="252" height="252" fill="#e1e1ab"/>
<text x="9" y="48" font-size="28" textLength="233" lengthAdjust="spacingAndGlyphs">VISUAL PREVIEW/</text>
<text x="8" y="91" font-size="28" textLength="233" lengthAdjust="spacingAndGlyphs">FATHOM DASHBD.</text>
<text x="6" y="126" font-size="26" textLength="174" lengthAdjust="spacingAndGlyphs">MIGHT MAKE</text>
<text x="6" y="168" font-size="26" textLength="182" lengthAdjust="spacingAndGlyphs">VALUE MORE</text>
<text x="8" y="220" font-size="26" textLength="220" lengthAdjust="spacingAndGlyphs">TRANSPARENT?</text></g>

<g class="p" transform="matrix(1 -.028 .028 1 5722 2211)"><rect width="252" height="252" fill="#e2d9ab"/>
<text x="12" y="51" font-size="28" textLength="156" lengthAdjust="spacingAndGlyphs">Connecting</text>
<text x="33" y="90" font-size="30" textLength="195" lengthAdjust="spacingAndGlyphs">Fathom should</text>
<text x="7" y="124" font-size="28" textLength="195" lengthAdjust="spacingAndGlyphs">Show a page</text>
<text x="5" y="159" font-size="28" textLength="237" lengthAdjust="spacingAndGlyphs">of new features</text>
<text x="12" y="188" font-size="28" textLength="140" lengthAdjust="spacingAndGlyphs">Unlocked</text></g>

<g class="k" transform="matrix(1 .02 -.024 1 6036 2207)"><rect width="252" height="252" fill="#dfdaa9"/>
<text x="15" y="33" font-size="24" textLength="142" lengthAdjust="spacingAndGlyphs">For newer</text>
<text x="24" y="64" font-size="26" textLength="195" lengthAdjust="spacingAndGlyphs">customers is</text>
<text x="31" y="95" font-size="26" textLength="191" lengthAdjust="spacingAndGlyphs">it clear what</text>
<text x="30" y="147" font-size="28" textLength="167" lengthAdjust="spacingAndGlyphs">Fathom is?</text>
<text x="28" y="172" font-size="24" textLength="128" lengthAdjust="spacingAndGlyphs">there's no</text>
<text x="32" y="199" font-size="26" textLength="195" lengthAdjust="spacingAndGlyphs">context about</text>
<text x="36" y="230" font-size="24" textLength="195" lengthAdjust="spacingAndGlyphs">it on the pages</text></g>

<g class="k" transform="matrix(1 .044 -.044 1 5987 1206)"><rect width="252" height="252" fill="#f0eab8"/>
<text x="14" y="36" font-size="22" textLength="187" lengthAdjust="spacingAndGlyphs">Quick action</text>
<text x="46" y="77" font-size="22" textLength="174" lengthAdjust="spacingAndGlyphs">pg → doesn't</text>
<text x="21" y="113" font-size="22" textLength="212" lengthAdjust="spacingAndGlyphs">need 2 locations</text>
<text x="22" y="147" font-size="22" textLength="173" lengthAdjust="spacingAndGlyphs">to click on to</text>
<text x="36" y="180" font-size="22" textLength="183" lengthAdjust="spacingAndGlyphs">view — just the</text>
<text x="27" y="216" font-size="22" textLength="175" lengthAdjust="spacingAndGlyphs">“view” action</text>
<text x="43" y="241" font-size="20" textLength="208" lengthAdjust="spacingAndGlyphs">would make sense</text></g>

<g class="k" transform="matrix(1 .004 -.008 1 5969 1520)"><rect width="252" height="252" fill="#e1deae"/>
<text x="11" y="34" font-size="20" textLength="215" lengthAdjust="spacingAndGlyphs">it looks like there</text>
<text x="10" y="59" font-size="20" textLength="181" lengthAdjust="spacingAndGlyphs">are supposed to</text>
<text x="24" y="99" font-size="20" textLength="125" lengthAdjust="spacingAndGlyphs">be more</text>
<text x="47" y="125" font-size="20" textLength="163" lengthAdjust="spacingAndGlyphs">actions than</text>
<text x="62" y="155" font-size="20" textLength="92" lengthAdjust="spacingAndGlyphs">“view”</text></g>

<g class="y" transform="matrix(1 .02 -.024 1 5974 1834)"><rect width="252" height="252" fill="#e2dba9"/>
<text x="18" y="51" font-size="20" textLength="175" lengthAdjust="spacingAndGlyphs">Why 1st line</text>
<text x="14" y="97" font-size="20" textLength="231" lengthAdjust="spacingAndGlyphs">item in a link?</text>
<text x="11" y="143" font-size="20" textLength="191" lengthAdjust="spacingAndGlyphs">Not the other</text>
<text x="11" y="181" font-size="20" textLength="32" lengthAdjust="spacingAndGlyphs">2.</text></g>
</svg>
</body>
</html>
